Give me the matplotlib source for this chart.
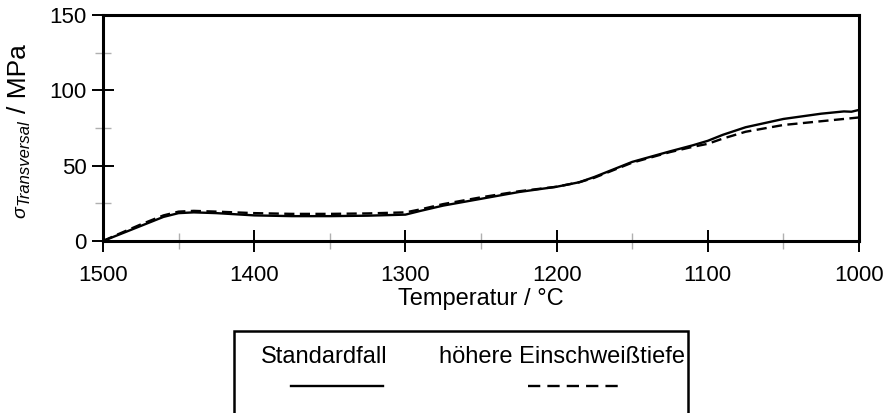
import matplotlib
matplotlib.use("Agg")
import matplotlib.pyplot as plt
from matplotlib.lines import Line2D
from matplotlib.patches import Rectangle
from matplotlib.ticker import MultipleLocator

plt.rcParams['font.family'] = ['Liberation Sans', 'DejaVu Sans']

# ---- data ----
temp = [1500, 1490, 1475, 1460, 1450, 1440, 1425, 1400, 1375, 1350, 1325, 1300,
        1290, 1275, 1250, 1225, 1200, 1185, 1175, 1160, 1150, 1125, 1110, 1100,
        1090, 1075, 1050, 1025, 1010, 1005, 1000]
standard = [0, 4, 10, 16, 18.5, 19, 18.5, 17, 16.5, 16.5, 16.8, 17.5,
            20, 23.5, 28, 32.5, 36, 39, 42.5, 48.5, 52.5, 59.5, 63.5, 66.5,
            70.5, 75.5, 81, 84.5, 86, 85.8, 87]
hoehere = [0, 4.5, 11, 17, 19.5, 20, 19.5, 18.5, 18, 18, 18.3, 19,
           21, 24.5, 29, 33, 36, 39, 42, 48, 52, 59, 62.5, 64.5,
           68, 72.5, 77, 79.5, 81, 81.5, 82]
series_names = ["Standardfall", "höhere Einschweißtiefe"]
xticks = [1500, 1400, 1300, 1200, 1100, 1000]
yticks = [0, 50, 100, 150]

W, H = 889, 413
fig = plt.figure(figsize=(W / 100, H / 100), dpi=100)
ax = fig.add_axes([103 / W, 1 - 241 / H, (859 - 103) / W, (241 - 15) / H])

dash = (4.3, 2.3)
ax.plot(temp, standard, color='black', lw=1.7, solid_capstyle='butt', clip_on=False, zorder=3)
ax.plot(temp, hoehere, color='black', lw=1.7, dashes=dash, clip_on=False, zorder=3)

ax.set_xlim(1500, 1000)
ax.set_ylim(0, 150)
ax.set_xticks(xticks)
ax.set_yticks(yticks)
ax.xaxis.set_minor_locator(MultipleLocator(50))
ax.yaxis.set_minor_locator(MultipleLocator(25))
ax.tick_params(which='major', direction='inout', length=16, width=1.4, color='black',
               labelsize=16, top=False, right=False)
ax.tick_params(axis='x', which='major', pad=9)
ax.tick_params(axis='y', which='major', pad=4)
ax.tick_params(which='minor', direction='inout', length=11, width=1.0, color='#b0b0b0',
               top=False, right=False)
for s in ax.spines.values():
    s.set_linewidth(2.2)

ax.set_xlabel('Temperatur / °C', fontsize=17, labelpad=2)

# y label built from pieces (sigma, small italic subscript, unit)
def px(x, y):
    return x / W, 1 - y / H

fig.text(*px(25, 218), 'σ', fontsize=14, fontstyle='italic', rotation=90,
         rotation_mode='anchor', ha='left', va='baseline')
fig.text(*px(28, 205), 'Transversal', fontsize=12, fontstyle='italic', rotation=90,
         rotation_mode='anchor', ha='left', va='baseline')
fig.text(*px(25.5, 113), '/ MPa', fontsize=19, rotation=90,
         rotation_mode='anchor', ha='left', va='baseline')

# legend (custom layout: label above sample)
rect = Rectangle((234 / W, -0.1), (688 - 234) / W, 1 - 331 / H + 0.1,
                 transform=fig.transFigure, fill=False, lw=1.8, ec='black')
fig.add_artist(rect)
fig.text(*px(324, 357), series_names[0], fontsize=17, ha='center', va='center')
fig.text(*px(562, 357), series_names[1], fontsize=17, ha='center', va='center')
fig.add_artist(Line2D([291 / W, 383 / W], [1 - 386 / H] * 2, transform=fig.transFigure,
                      color='black', lw=1.7))
fig.add_artist(Line2D([528 / W, 618 / W], [1 - 386 / H] * 2, transform=fig.transFigure,
                      color='black', lw=1.7, dashes=(5.2, 3.0)))

fig.savefig('out.png', dpi=100)
